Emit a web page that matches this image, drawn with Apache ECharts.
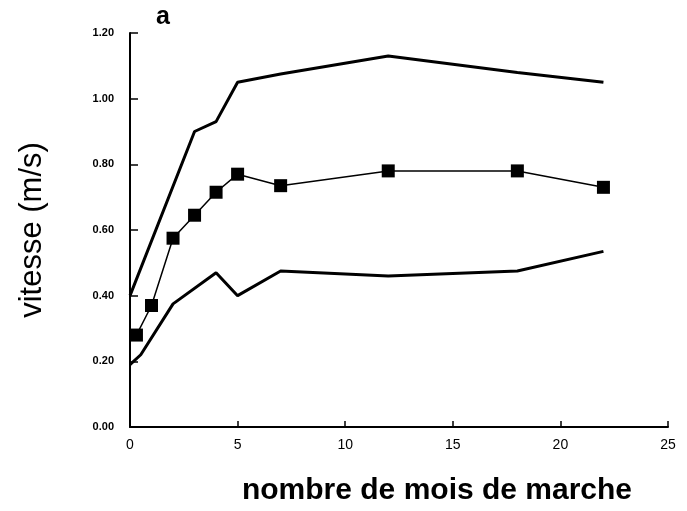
<!DOCTYPE html>
<html>
<head>
<meta charset="utf-8">
<script src="https://cdn.jsdelivr.net/npm/echarts@6/dist/echarts.min.js"></script>
<style>
    html, body { margin: 0; padding: 0; background: #fff; }
    #main { width: 687px; height: 511px; }
</style>
</head>
<body>
<div id="main"></div>
<script>
// valeurs
var hautMois = [0, 3, 4, 5, 7, 12, 18, 22];
var hautVit = [0.40, 0.90, 0.93, 1.05, 1.075, 1.13, 1.08, 1.05];

var moyMois = [0.3, 1, 2, 3, 4, 5, 7, 12, 18, 22];
var moyVit = [0.28, 0.37, 0.575, 0.645, 0.715, 0.77, 0.735, 0.78, 0.78, 0.73];

var basMois = [0, 0.5, 2, 4, 5, 7, 12, 18, 22];
var basVit = [0.19, 0.22, 0.375, 0.47, 0.40, 0.475, 0.46, 0.475, 0.535];

var yTicks = ['0.00', '0.20', '0.40', '0.60', '0.80', '1.00', '1.20'];

function paires(xs, ys) {
    return xs.map(function (x, i) { return [x, ys[i]]; });
}

(function () {
    var chartDom = document.getElementById('main');
    var myChart = echarts.init(chartDom);
    var option;

    option = {
        animation: false,
        title: {
            text: 'a',
            left: 151,
            top: 0,
            textStyle: {
                fontSize: 25,
                fontWeight: 'bold',
                color: '#000',
                fontFamily: 'Liberation Sans'
            }
        },
        grid: {
            left: 130,
            right: 19,
            top: 33,
            bottom: 80
        },
        xAxis: {
            type: 'value',
            min: 0,
            max: 25,
            interval: 5,
            name: 'nombre de mois de marche',
            nameLocation: 'middle',
            nameGap: 49,
            nameTextStyle: {
                fontSize: 30,
                fontWeight: 'bold',
                color: '#000',
                fontFamily: 'Liberation Sans',
                padding: [0, 0, 0, 76]
            },
            axisLine: { lineStyle: { color: '#000', width: 2 } },
            axisTick: { inside: true, length: 6, lineStyle: { color: '#000', width: 1.5 } },
            axisLabel: {
                color: '#000',
                fontSize: 14,
                fontFamily: 'Liberation Sans',
                margin: 11
            },
            splitLine: { show: false }
        },
        yAxis: {
            type: 'value',
            min: 0,
            max: 1.2,
            interval: 0.2,
            name: 'vitesse (m/s)',
            nameLocation: 'middle',
            nameGap: 82,
            nameRotate: 90,
            nameTextStyle: {
                fontSize: 31,
                color: '#000',
                fontFamily: 'Liberation Sans'
            },
            axisLine: { show: true, lineStyle: { color: '#000', width: 2 } },
            axisTick: { show: true, inside: true, length: 8, lineStyle: { color: '#000', width: 1.5 } },
            axisLabel: {
                color: '#000',
                fontSize: 11,
                fontWeight: 'bold',
                fontFamily: 'Liberation Sans',
                margin: 16,
                formatter: function (v) {
                    return yTicks[Math.round(v / 0.2)];
                }
            },
            splitLine: { show: false }
        },
        series: [
            {
                name: 'haut',
                type: 'line',
                data: paires(hautMois, hautVit),
                showSymbol: false,
                lineStyle: { color: '#000', width: 3 }
            },
            {
                name: 'moyenne',
                type: 'line',
                data: paires(moyMois, moyVit),
                symbol: 'rect',
                symbolSize: 13,
                itemStyle: { color: '#000' },
                lineStyle: { color: '#000', width: 1.5 }
            },
            {
                name: 'bas',
                type: 'line',
                data: paires(basMois, basVit),
                showSymbol: false,
                lineStyle: { color: '#000', width: 3 }
            }
        ]
    };

    option && myChart.setOption(option);
})();
</script>
</body>
</html>
